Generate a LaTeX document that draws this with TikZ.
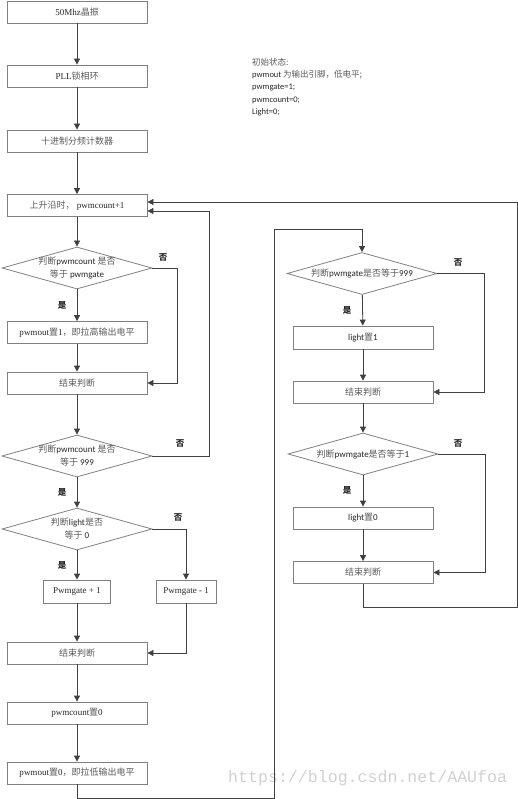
\documentclass[tikz,border=0pt]{standalone}
\usepackage{fontspec}
\setmainfont{Liberation Serif}
\newfontfamily\cjkfont{Noto Sans CJK SC}
\newfontfamily\calfont{Carlito}
\newfontfamily\wmfont{Liberation Mono}
\usetikzlibrary{shapes.geometric,arrows.meta}
\definecolor{boxgray}{HTML}{808080}
\definecolor{arrgray}{HTML}{404040}
\definecolor{txt}{HTML}{262626}
\definecolor{zhgray}{HTML}{5A5A5A}
\definecolor{wmgray}{HTML}{D0D0D0}
\newcommand{\zh}[1]{{\cjkfont\color{zhgray}#1}}
\newcommand{\sftxt}[1]{{\calfont #1}}
\newcommand{\twol}[2]{\makebox[0pt]{\begin{tabular}{@{}c@{}}#1\\#2\end{tabular}}}
\begin{document}
\begin{tikzpicture}[x=1pt,y=-1pt,
  box/.style={draw=boxgray, line width=0.8pt, minimum width=140pt, minimum height=22pt, inner sep=0pt, font=\fontsize{9}{10}\selectfont, text=txt},
  dia/.style={draw=boxgray, line width=0.8pt, diamond, minimum width=150pt, minimum height=42pt, inner sep=0pt, font=\fontsize{9}{13}\selectfont, text=txt},
  arr/.style={draw=arrgray, line width=0.8pt, -{Triangle[length=6pt,width=6pt]}},
  yn/.style={font=\cjkfont\bfseries\fontsize{8.5}{10}\selectfont, text=txt, inner sep=0pt}]
\useasboundingbox (0,0) rectangle (518,799);
% watermark
\node[anchor=base west, inner sep=0pt, text=wmgray, font=\wmfont\fontsize{16.6}{18}\selectfont] (wm) at (228,782) {https://blog.csdn.net/AAUfoa};
% initial state
\node[anchor=north west, inner sep=0pt, align=left, text=txt, font=\calfont\fontsize{8.5}{12.3}\selectfont] (init) at (252,58)
  {\zh{初始状态:}\\ pwmout \zh{为输出引脚，低电平;}\\ pwmgate=1;\\ pwmcount=0;\\ Light=0;};
% left column
\node[box] (b1) at (77,12) {50Mhz\zh{晶振}};
\node[box] (b2) at (77,76) {PLL\zh{锁相环}};
\node[box] (b3) at (77,141) {\zh{十进制分频计数器}};
\node[box] (b4) at (77,205.5) {\zh{上升沿时，}\ pwmcount+1};
\node[dia] (d1) at (77,268) {\twol{\zh{判断}\sftxt{pwmcount }\zh{是否}}{\zh{等于 }\sftxt{pwmgate}}};
\node[box] (b5) at (77,332.5) {pwmout\zh{置}1\zh{，即拉高输出电平}};
\node[box] (b6) at (77,383) {\zh{结束判断}};
\node[dia] (d2) at (77,456) {\twol{\zh{判断}\sftxt{pwmcount }\zh{是否}}{\zh{等于 }\sftxt{999}}};
\node[dia] (d3) at (77,529) {\twol{\zh{判断}\sftxt{light}\zh{是否}}{\zh{等于 }\sftxt{0}}};
\node[box, minimum width=67pt, minimum height=23pt] (b7) at (77,591.5) {Pwmgate + 1};
\node[box, minimum width=60pt, minimum height=23pt] (b8) at (186,591.5) {Pwmgate - 1};
\node[box] (b9) at (77,653) {\zh{结束判断}};
\node[box] (b10) at (77,713) {pwmcount\zh{置}0};
\node[box] (b11) at (77,773) {pwmout\zh{置}0\zh{，即拉低输出电平}};
% right column
\node[dia] (d4) at (362,273.5) {\makebox[0pt]{\zh{判断}\sftxt{pwmgate}\zh{是否等于}\sftxt{999}}};
\node[box, minimum height=23pt] (r1) at (363,337.5) {\sftxt{light}\zh{置}\sftxt{1}};
\node[box] (r2) at (363,392) {\zh{结束判断}};
\node[dia] (d5) at (363,454) {\makebox[0pt]{\zh{判断}\sftxt{pwmgate}\zh{是否等于}\sftxt{1}}};
\node[box] (r3) at (363,518) {\sftxt{light}\zh{置}\sftxt{0}};
\node[box] (r4) at (363,572.5) {\zh{结束判断}};
% yes / no labels
\node[yn] (y1) at (62,305) {是};
\node[yn] (n1) at (163,257) {否};
\node[yn] (y2) at (62,492) {是};
\node[yn] (n2) at (180,443) {否};
\node[yn] (y3) at (62,565) {是};
\node[yn] (n3) at (178,517) {否};
\node[yn] (y4) at (347,310) {是};
\node[yn] (n4) at (458,262) {否};
\node[yn] (y5) at (347,490) {是};
\node[yn] (n5) at (458,443) {否};
% coordinates
\coordinate (c1) at (209,211);
\coordinate (c2) at (77,798);
\coordinate (c3) at (274,798);
\coordinate (c4) at (274,229);
\coordinate (c5) at (363,607);
\coordinate (c6) at (517,607);
\coordinate (c7) at (517,202);
\coordinate (k1) at (177,268);
\coordinate (k4) at (484,273.5);
\coordinate (k5) at (485,454);
% connectors
\draw[arr] (b1) -- (b2);
\draw[arr] (b2) -- (b3);
\draw[arr] (b3) -- (b4);
\draw[arr] (b4) -- (d1);
\draw[arr] (d1) -- (b5);
\draw[arr] (b5) -- (b6);
\draw[arr] (d1.east) -- (k1) |- (b6.east);
\draw[arr] (b6) -- (d2);
\draw[arr] (d2) -- (d3);
\draw[arr] (d2.east) -| (c1) -- (c1 -| b4.east);
\draw[arr] (d3) -- (b7);
\draw[arr] (d3.east) -| (b8.north);
\draw[arr] (b7) -- (b9);
\draw[arr] (b8.south) |- (b9.east);
\draw[arr] (b9) -- (b10);
\draw[arr] (b10) -- (b11);
\draw[arr] (b11.south) -- (c2) -- (c3) -- (c4) -| (d4.north);
\draw[arr] (d4) -- (r1);
\draw[arr] (r1) -- (r2);
\draw[arr] (d4.east) -- (k4) |- (r2.east);
\draw[arr] (r2) -- (d5);
\draw[arr] (d5) -- (r3);
\draw[arr] (r3) -- (r4);
\draw[arr] (d5.east) -- (k5) |- (r4.east);
\draw[arr] (r4.south) -- (c5) -- (c6) -- (c7) -- (c7 -| b4.east);
\end{tikzpicture}
\end{document}
